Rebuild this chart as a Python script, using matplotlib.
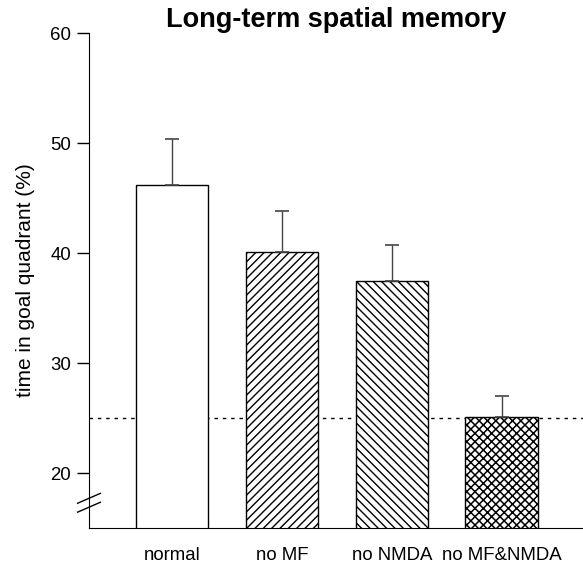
import matplotlib

matplotlib.use("Agg")
import matplotlib.pyplot as plt

# data
groups = ["normal", "no MF", "no NMDA", "no MF&NMDA"]
means = [46.2, 40.1, 37.5, 25.1]
sem = [4.2, 3.7, 3.2, 1.9]
hatches = ["", "////", "\\\\\\\\", "xxxx"]
chance = 25
yticks = [20, 30, 40, 50, 60]

plt.rcParams["font.family"] = ["Liberation Sans", "DejaVu Sans"]
plt.rcParams["hatch.linewidth"] = 1.0

fig = plt.figure(figsize=(5.83, 5.63), dpi=100)
ax = fig.add_axes([89 / 583, 35 / 563, 1 - 89 / 583, (528 - 33) / 563])

x = range(len(groups))
bars = ax.bar(x, means, width=0.66, bottom=0, color="white", edgecolor="black",
              hatch=hatches, linewidth=1.0, zorder=2)
# the cross-hatched bar looks a bit heavier in the original
if hasattr(bars[-1], "set_hatch_linewidth"):
    bars[-1].set_hatch_linewidth(1.1)
ax.errorbar(x, means, yerr=[[0] * len(sem), sem], fmt="none", ecolor="#444444",
            elinewidth=1.0, capsize=5, capthick=1.2, zorder=3)
ax.axhline(chance, color="black", linestyle=(0, (2.5, 3.5)), linewidth=1.0, zorder=1)

ax.set_ylim(15, 60)
ax.set_xlim(-0.755, 3.74)
ax.set_yticks(yticks)
ax.set_xticks(list(x))
ax.set_xticklabels(groups)
ax.tick_params(axis="x", length=0, pad=14, labelsize=13.4)
ax.tick_params(axis="y", direction="out", length=9, width=1.0, pad=4, labelsize=13.4)
ax.spines["top"].set_visible(False)
ax.spines["right"].set_visible(False)
ax.set_ylabel("time in goal quadrant (%)", fontsize=15, labelpad=11)

# axis break marks
for y0 in (0.032, 0.05):
    ax.plot([-0.023, 0.023], [y0, y0 + 0.02], transform=ax.transAxes,
            color="black", linewidth=1.0, clip_on=False)

ax.set_title("Long-term spatial memory", fontsize=19.5, fontweight="bold", pad=2)

fig.savefig("out.png", dpi=100)
